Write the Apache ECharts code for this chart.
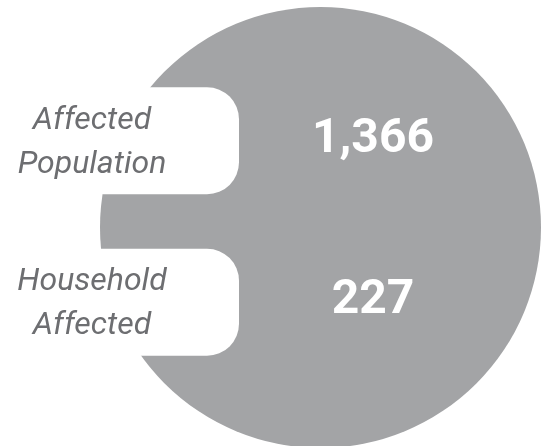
<!DOCTYPE html>
<html>
<head>
<meta charset="utf-8">
<script src="https://cdn.jsdelivr.net/npm/echarts@6/dist/echarts.min.js"></script>
<style>html,body{margin:0;padding:0;background:#fff;}#c{width:549px;height:446px;}</style>
</head>
<body>
<div id="c"></div>
<script>
var categories = ['Affected\nPopulation', 'Household\nAffected'];
var values = [1366, 227];

var chart = echarts.init(document.getElementById('c'), null, {renderer: 'canvas'});
var data = values.map(function (v, i) { return [0, i, v]; });

chart.setOption({
  animation: false,
  grid: {left: 0, right: 0, top: 60, height: 323},
  xAxis: {type: 'value', min: 0, max: 1, show: false},
  yAxis: {type: 'category', data: categories, show: false, inverse: true},
  series: [
    {
      type: 'pie',
      silent: true,
      z: 1,
      center: [320.5, 227.5],
      radius: [0, 220.5],
      label: {show: false},
      labelLine: {show: false},
      itemStyle: {color: '#a3a4a6'},
      data: [{value: 1, name: 'circle'}]
    },
    {
      type: 'custom',
      z: 5,
      silent: true,
      data: data,
      encode: {x: 0, y: 1},
      renderItem: function (params, api) {
        var idx = api.value(1);
        var pt = api.coord([0, idx]);
        var cy = pt[1];
        var h = 107;
        return {
          type: 'group',
          children: [
            {
              type: 'rect',
              shape: {x: -40, y: cy - h / 2, width: 279, height: h, r: [0, 32, 32, 0]},
              style: {fill: '#ffffff'}
            },
            {
              type: 'text',
              style: {
                x: 92, y: cy + 2,
                text: categories[idx],
                fill: '#6d6e71',
                font: 'italic 400 32px Roboto',
                lineHeight: 44,
                align: 'center',
                verticalAlign: 'middle'
              }
            },
            {
              type: 'text',
              style: {
                x: 373, y: cy - 1,
                text: values[idx].toLocaleString('en-US'),
                fill: '#ffffff',
                font: 'bold 48px Roboto',
                align: 'center',
                verticalAlign: 'middle'
              }
            }
          ]
        };
      }
    }
  ]
});
</script>
</body>
</html>
